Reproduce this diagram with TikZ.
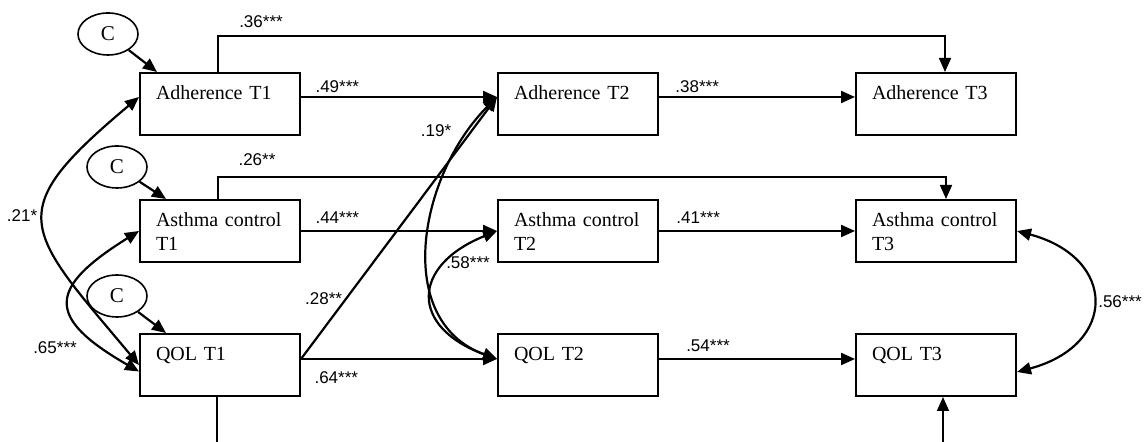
\documentclass[tikz,border=0pt]{standalone}
\usepackage{fontspec}
\setmainfont{Liberation Serif}
\newfontfamily\coeffont{Liberation Sans}
\usetikzlibrary{positioning, arrows.meta, shapes.geometric}

\begin{document}
\begin{tikzpicture}[x=0.5pt, y=0.5pt,
  var/.style={draw, line width=1pt, text width=64pt, minimum height=31pt,
    inner xsep=8pt, inner ysep=0pt, align=left, font=\fontsize{10}{12}\selectfont,
    execute at begin node={\rule{0pt}{11pt}}, execute at end node={\strut}},
  cvar/.style={draw, ellipse, line width=0.8pt, minimum width=30pt, minimum height=21pt,
    inner sep=0pt, font=\fontsize{10.5}{12}\selectfont},
  arr/.style={line width=1.1pt, -{Triangle[length=7pt, width=6pt]}},
  cov/.style={line width=1.1pt, {Triangle[length=7pt, width=6pt]}-{Triangle[length=7pt, width=6pt]}},
  lag/.style={line width=0.8pt, -{Triangle[length=7pt, width=6pt]}},
  coef/.style={font=\coeffont\fontsize{8.5}{10}\selectfont, inner sep=1.5pt}]
  \useasboundingbox (0,0) rectangle (1145,442);
  \clip (0,0) rectangle (1145,442);

  % time 1
  \node[var] (adh1) at (220,338) {Adherence T1\\};
  \node[var, below=31.5pt of adh1] (asth1) {Asthma control\\T1};
  \node[var, below=35pt of asth1] (qol1) {QOL T1\\};
  % time 2
  \node[var, right=98pt of adh1] (adh2) {Adherence T2\\};
  \node[var, right=98pt of asth1] (asth2) {Asthma control\\T2};
  \node[var, right=98pt of qol1] (qol2) {QOL T2\\};
  % time 3
  \node[var, right=98pt of adh2] (adh3) {Adherence T3\\};
  \node[var, right=98pt of asth2] (asth3) {Asthma control\\T3};
  \node[var, right=98pt of qol2] (qol3) {QOL T3\\};

  % covariates
  \node[cvar] (c1) at (108,408) {C};
  \node[cvar] (c2) at (117,275) {C};
  \node[cvar] (c3) at (117,146) {C};
  \draw[arr] (c1) -- ([xshift=9pt]adh1.north west);
  \draw[arr] (c2) -- ([xshift=13.5pt]asth1.north west);
  \draw[arr] (c3) -- ([xshift=13.5pt]qol1.north west);

  % autoregressive paths
  \draw[arr] ([yshift=3.5pt]adh1.east) -- node[coef, pos=0.185, above] (b49) {.49***} ([yshift=3.5pt]adh2.west);
  \draw[arr] ([yshift=3.5pt]adh2.east) -- node[coef, pos=0.195, above] (b38) {.38***} ([yshift=3.5pt]adh3.west);
  \draw[arr] (asth1.east) -- node[coef, pos=0.185, above=1.5pt] (b44) {.44***} (asth2.west);
  \draw[arr] (asth2.east) -- node[coef, pos=0.2, above=1.5pt] (b41) {.41***} (asth3.west);
  \draw[arr] ([yshift=3pt]qol1.east) -- node[coef, pos=0.18, below=4.5pt] (b64) {.64***} ([yshift=3pt]qol2.west);
  \draw[arr] ([yshift=3pt]qol2.east) -- node[coef, pos=0.25, above=1.5pt] (b54) {.54***} ([yshift=3pt]qol3.west);
  \draw[arr] ([yshift=3pt]qol1.east) -- node[coef, pos=0.23, left] (b28) {.28**} ([yshift=3.5pt]adh2.west);

  % lag-2 paths
  \draw[lag] ([xshift=-1pt]adh1.north) -- ++(0,36) -| ([xshift=4.5pt]adh3.north);
  \draw[lag] ([xshift=-1pt]asth1.north) -- ++(0,22) -| ([xshift=5pt]asth3.north);
  \draw[lag] ([xshift=-1.5pt]qol1.south) -- ++(0,-60) -| ([xshift=3.5pt]qol3.south);
  \node[coef] (b36) at (261,420) {.36***};
  \node[coef] (b26) at (257,282) {.26**};

  % correlations
  \draw[cov] ([yshift=3.5pt]adh1.west) to[out=220, in=130, distance=90pt] (qol1.west);
  \draw[cov] (asth1.west) to[out=212, in=150, distance=54pt] ([yshift=-3.25pt]qol1.west);
  \draw[cov] ([yshift=3.5pt]adh2.west) to[out=225, in=160, distance=55.5pt] ([yshift=3pt]qol2.west);
  \draw[cov] (asth2.west) to[out=202, in=160, distance=46.5pt] ([yshift=3pt]qol2.west);
  \draw[cov] (asth3.east) to[out=-15, in=15, distance=52pt] ([yshift=-3.5pt]qol3.east);
  \node[coef] (b21) at (22,226) {.21*};
  \node[coef] (b65) at (55,94) {.65***};
  \node[coef] (b19) at (436,311) {.19*};
  \node[coef] (b58) at (468,179) {.58***};
  \node[coef] (b56) at (1120,140) {.56***};
\end{tikzpicture}
\end{document}
